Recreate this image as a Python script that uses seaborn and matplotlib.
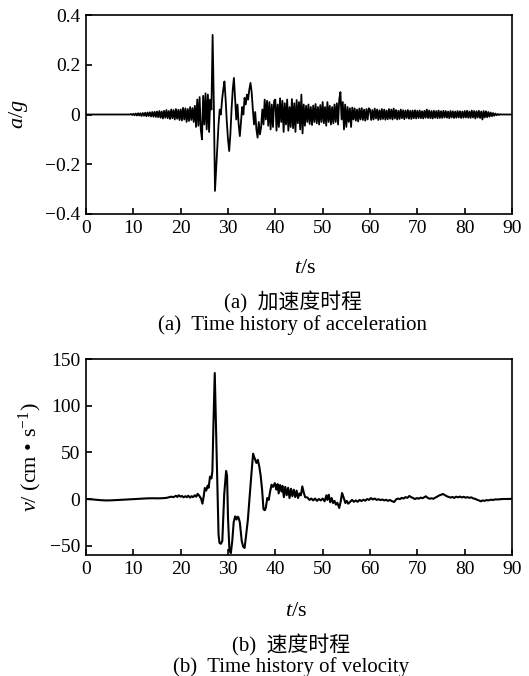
import numpy as np
import pandas as pd
import matplotlib
matplotlib.use("Agg")
import matplotlib.pyplot as plt
import seaborn as sns

# ---------------- data ----------------
acc_dt = 0.25  # sampling interval of the acceleration record, s
acc_g = [
    0, 0, 0, 0, 0, 0, 0, 0, 0, 0, 0, 0, 0, 0, 0, 0, 0, 0, 0, 0,
    0, 0, 0, 0, 0, 0, 0, 0, 0, 0, 0, 0, 0, 0, 0, 0, 0, 0, 0.002, -0.002,
    0.003, -0.003, 0.004, -0.004, 0.005, -0.004, 0.005, -0.006, 0.006, -0.005,
    0.007, -0.007, 0.008, -0.006, 0.009, -0.008, 0.01, -0.009, 0.011, -0.01,
    0.012, -0.011, 0.014, -0.013, 0.012, -0.016, 0.015, -0.013, 0.018, -0.015,
    0.014, -0.018, 0.02, -0.015, 0.018, -0.02, 0.022, -0.017, 0.019, -0.022,
    0.02, -0.024, 0.027, -0.02, 0.025, -0.03, 0.022, -0.026, 0.03, -0.022,
    0.026, -0.03, 0.035, -0.05, 0.06, -0.045, 0.07, -0.06, -0.1, 0.075,
    -0.04, 0.085, -0.06, 0.08, -0.07, 0.06, 0.02, 0.32, 0.05, -0.307,
    -0.22, -0.14, -0.04, 0.02, 0.0, 0.06, 0.1, 0.133, 0.06, -0.03,
    -0.1, -0.147, -0.08, 0.02, 0.1, 0.147, 0.06, -0.02, 0.04, -0.04,
    -0.087, -0.03, 0.03, 0.0, 0.067, 0.04, 0.08, 0.06, 0.1, 0.127,
    0.09, 0.02, -0.04, 0.01, -0.06, -0.093, -0.03, -0.08, -0.05, 0.02,
    -0.04, 0.06, -0.02, 0.055, -0.045, 0.05, -0.06, 0.04, -0.05, 0.055,
    0.06, -0.065, 0.04, -0.05, 0.065, -0.03, 0.055, -0.07, 0.045, -0.04,
    0.06, -0.065, 0.03, -0.05, 0.062, -0.055, 0.045, -0.07, 0.058, -0.035,
    0.05, -0.06, 0.08, -0.076, 0.04, -0.045, 0.035, -0.03, 0.04, -0.038,
    0.03, -0.042, 0.036, -0.03, 0.042, -0.035, 0.03, -0.04, 0.038, -0.03,
    0.05, -0.035, 0.03, -0.045, 0.05, -0.03, 0.035, -0.04, 0.03, -0.035,
    0.04, -0.03, 0.045, -0.04, 0.06, 0.09, -0.02, 0.05, -0.06, 0.04,
    -0.05, 0.03, -0.03, 0.025, -0.05, 0.028, -0.02, 0.025, -0.025, 0.02,
    -0.028, 0.024, -0.02, 0.026, -0.022, 0.02, -0.025, 0.022, -0.02, 0.025,
    0.02, -0.022, 0.018, -0.02, 0.024, -0.016, 0.02, -0.022, 0.017, -0.02,
    0.022, -0.018, 0.02, -0.021, 0.016, -0.019, 0.022, -0.017, 0.02, -0.02,
    0.024, -0.016, 0.018, -0.02, 0.015, -0.018, 0.02, -0.015, 0.017, -0.019,
    0.016, -0.014, 0.018, -0.017, 0.015, -0.018, 0.016, -0.015, 0.017, -0.016,
    0.015, -0.014, 0.016, -0.015, 0.013, -0.016, 0.015, -0.013, 0.02, -0.014,
    0.016, -0.015, 0.014, -0.016, 0.015, -0.013, 0.014, -0.015, 0.016, -0.014,
    0.013, -0.014, 0.015, -0.012, 0.014, -0.013, 0.012, -0.015, 0.014, -0.012,
    0.013, -0.014, 0.012, -0.013, 0.014, -0.012, 0.013, -0.014, 0.012, -0.013,
    0.014, -0.012, 0.015, -0.013, 0.012, -0.014, 0.016, -0.012, 0.014, -0.016,
    0.013, -0.012, 0.015, -0.014, 0.012, -0.02, 0.014, -0.012, 0.013, -0.011,
    0.01, -0.009, 0.008, -0.007, 0.006, -0.005, 0.004, -0.003, 0.002, -0.002,
    0.001, 0, 0, 0, 0, 0, 0, 0, 0, 0,
    0,
]

# velocity record: 0 - 55.4 s
vel_t_main = [0, 1, 2, 3, 4, 5, 6, 7, 8, 9, 10, 11, 12, 13, 14, 15, 16, 17, 17.5, 18,
              18.5, 19, 19.3, 19.6, 20, 20.3, 20.6, 21, 21.3, 21.6, 22, 22.3, 22.6, 23, 23.3,
              23.6, 24.0, 24.3, 24.6, 24.9, 25.1, 25.4, 25.7, 25.9, 26.2, 26.5, 26.7, 26.9, 27.2,
              27.5, 27.8, 28.0, 28.2, 28.5, 28.8, 29.2, 29.6, 29.8, 30.0, 30.3, 30.6, 30.9, 31.2,
              31.5, 31.8, 32.0, 32.2, 32.5, 32.9, 33.2, 33.5, 33.8, 34.2, 34.6, 34.9, 35.3, 35.6,
              36.0, 36.3, 36.6, 36.9, 37.2, 37.5, 37.8, 38.0, 38.3, 38.6, 38.9, 39.2, 39.5, 39.9,
              40.2, 40.5, 40.7, 41.0, 41.3, 41.5, 41.8, 42.1, 42.4, 42.7, 43.0, 43.3, 43.6, 43.9,
              44.2, 44.5, 44.8, 45.1, 45.4, 45.7, 46.0, 46.3, 46.8, 47.2, 47.6, 48.0, 48.4, 48.8,
              49.2, 49.6, 50.0, 50.4, 50.8, 51.0, 51.3, 51.6, 51.9, 52.2, 52.5, 52.8, 53.1, 53.5,
              53.8, 54.1, 54.4, 54.8, 55.1, 55.4]
vel_v_main = [0, -0.3, -0.8, -1.2, -1.5, -1.5, -1.3, -1.0, -0.7, -0.4, -0.2, 0.1, 0.4, 0.7, 0.8, 0.7, 0.8, 1.2, 1.8, 2.5,
              2.0, 3.5, 2.2, 4.0, 2.5, 3.2, 1.8, 3.0, 2.0, 3.5, 1.5, 3.0, 2.0, 4.0, 2.5,
              5.5, 3.0, 0.5, -5.0, 4.0, 11.8, 9.0, 14.3, 12.0, 24.0, 22.0, 30.0, 75.0, 135.0,
              70.0, 0.0, -38.0, -47.0, -48.0, -45.0, 5.0, 30.0, 25.0, -20.0, -55.0, -58.0, -45.0, -25.0,
              -18.6, -22.0, -19.0, -19.5, -25.0, -45.0, -51.0, -52.5, -40.0, -22.0, 5.0, 24.0, 48.5, 44.0,
              38.6, 42.0, 35.0, 25.0, 10.0, -11.0, -12.0, -9.0, 1.0, -1.0, 8.0, 15.3, 13.0, 17.0,
              10.0, 16.0, 6.0, 15.0, 8.0, 14.0, 2.0, 13.0, 4.0, 12.0, 1.0, 11.0, 3.0, 10.0,
              2.0, 9.0, 1.0, 6.0, 4.0, 13.5, 7.0, 2.0, 1.6, -1.0, 0.5, -1.5, 0.5, -2.0,
              0.0, -1.5, 0.5, -2.5, 4.0, -1.0, 4.5, -3.5, 1.0, -4.3, -2.0, -6.0, -4.0, -9.6,
              -3.0, 6.4, 2.0, -4.3, -2.0, -5.0]
# velocity record: 55.8 - 90 s
vel_t_tail = [55.8, 56.2, 56.6, 57.0, 57.4, 57.8, 58.2, 58.6, 59.0, 59.4,
              59.8, 60.2, 60.6, 61.0, 61.4, 61.8, 62.2, 62.6, 63.0, 63.4,
              63.8, 64.2, 64.6, 65.1, 65.5, 65.9, 66.3, 66.7, 67.1, 67.5,
              67.9, 68.3, 68.7, 69.1, 69.5, 69.9, 70.3, 70.7, 71.1, 71.5,
              71.8, 72.2, 72.6, 73.0, 73.4, 73.8, 74.2, 74.6, 75.0, 75.4,
              75.8, 76.2, 76.6, 77.0, 77.4, 77.8, 78.2, 78.6, 79.0, 79.4,
              79.8, 80.2, 80.6, 81.0, 81.4, 81.8, 82.2, 82.6, 83.0, 83.4,
              83.8, 84.2, 84.6, 85.0, 85.5, 86.0, 86.5, 87.0, 87.5, 88.0,
              89.0, 90.0]
vel_v_tail = [-3.0, -1.0, -3.0, -1.5, -3.0, -1.0, -2.2, -0.8, -1.8, 0.0,
              -1.0, 1.0, -0.5, 0.5, -1.0, -0.2, -1.2, -0.5, -1.5, -0.8,
              -2.0, -1.0, -2.2, -3.2, -0.5, 0.5, -0.2, 1.2, 0.5, 2.0,
              1.2, 3.2, 2.0, 1.0, 0.0, 1.0, 0.3, 1.5, 0.8, 2.0,
              2.9, 1.2, 0.3, 0.8, 0.2, 1.5, 2.5, 3.8, 4.5, 5.4,
              4.2, 3.0, 2.2, 1.5, 2.2, 1.2, 2.5, 1.8, 2.6, 1.6,
              2.4, 1.4, 2.0, 1.2, 1.8, 0.6, 0.2, -0.8, -1.5, -2.5,
              -1.5, -2.0, -1.2, -1.5, -0.8, -1.0, -0.4, -0.5, -0.2, 0.0,
              0.0, 0.2]

x_ticks = [0, 10, 20, 30, 40, 50, 60, 70, 80, 90]
acc_yticks = [-0.4, -0.2, 0, 0.2, 0.4]
acc_yticklabels = ["\u22120.4", "\u22120.2", "0", "0.2", "0.4"]
vel_yticks = [-50, 0, 50, 100, 150]
vel_yticklabels = ["\u221250", "0", "50", "100", "150"]

cap_a_cn = "(a)  加速度时程"
cap_a_en = "(a)  Time history of acceleration"
cap_b_cn = "(b)  速度时程"
cap_b_en = "(b)  Time history of velocity"

# ---------------- style ----------------
sns.set_theme(style="ticks")
plt.rcParams["font.family"] = ["Liberation Serif", "Noto Sans CJK SC"]
plt.rcParams["mathtext.fontset"] = "custom"
plt.rcParams["mathtext.rm"] = "Liberation Serif"
plt.rcParams["mathtext.it"] = "Liberation Serif:italic"
plt.rcParams["axes.unicode_minus"] = True
for k in ("text.color", "axes.labelcolor", "xtick.color", "ytick.color", "axes.edgecolor"):
    plt.rcParams[k] = "black"

W, H = 529, 676
fig = plt.figure(figsize=(W / 100, H / 100), dpi=100)
fig.patch.set_facecolor("white")

ax1 = fig.add_axes([86 / W, 1 - 214 / H, 426 / W, 199 / H])
ax2 = fig.add_axes([86 / W, 1 - 555 / H, 426 / W, 196 / H])

acc_t = np.arange(len(acc_g)) * acc_dt
df_a = pd.DataFrame({"t": acc_t, "a": acc_g})
df_v = pd.DataFrame({"t": vel_t_main + vel_t_tail, "v": vel_v_main + vel_v_tail})

sns.lineplot(data=df_a, x="t", y="a", ax=ax1, color="black", linewidth=1.3,
             estimator=None, sort=False)
sns.lineplot(data=df_v, x="t", y="v", ax=ax2, color="black", linewidth=1.5,
             estimator=None, sort=False)

tick_fs = 14
for ax in (ax1, ax2):
    ax.set_facecolor("white")
    ax.set_xlim(0, 90)
    ax.set_xticks(x_ticks)
    ax.set_xticklabels([str(v) for v in x_ticks], fontsize=tick_fs)
    for s in ax.spines.values():
        s.set_visible(True)
        s.set_color("black")
        s.set_linewidth(1.2)
    ax.tick_params(axis="both", direction="in", length=4.5, width=1.2,
                   colors="black", top=False, right=False, pad=4)
    ax.grid(False)

ax1.set_ylim(-0.4, 0.4)
ax1.set_yticks(acc_yticks)
ax1.set_yticklabels(acc_yticklabels, fontsize=tick_fs)
ax2.set_ylim(-60, 150)
ax2.set_yticks(vel_yticks)
ax2.set_yticklabels(vel_yticklabels, fontsize=tick_fs)

lab_fs = 16
ax1.set_xlabel(r"$t$/s", fontsize=lab_fs, va="center")
ax1.xaxis.set_label_coords((305 - 86) / 426, -(269 - 214) / 199)
ax1.set_ylabel(r"$a$/$g$", fontsize=lab_fs, va="center")
ax1.yaxis.set_label_coords((18 - 86) / 426, 0.5)

ax2.set_xlabel(r"$t$/s", fontsize=lab_fs, va="center")
ax2.xaxis.set_label_coords((296 - 86) / 426, -(611 - 555) / 196)
ax2.set_ylabel("$v$/ (cm \u2022 s$^{-1}$)", fontsize=lab_fs, va="center")
ax2.yaxis.set_label_coords((30 - 86) / 426, 0.5)

cap_fs = 15
fig.text(293 / W, 1 - 302 / H, cap_a_cn, ha="center", va="center", fontsize=cap_fs)
fig.text(293 / W, 1 - 325 / H, cap_a_en, ha="center", va="center", fontsize=cap_fs)
fig.text(291 / W, 1 - 645 / H, cap_b_cn, ha="center", va="center", fontsize=cap_fs)
fig.text(291 / W, 1 - 667 / H, cap_b_en, ha="center", va="center", fontsize=cap_fs)

fig.savefig("out.png", dpi=100, facecolor="white")
